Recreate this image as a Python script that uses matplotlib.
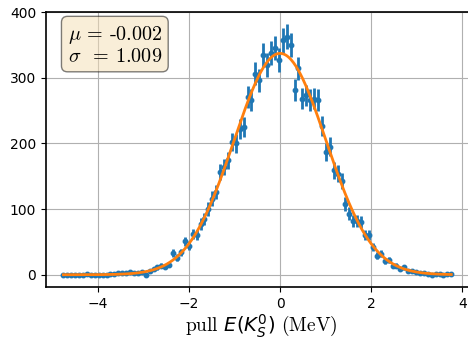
import numpy as np
import matplotlib
matplotlib.use("Agg")
import matplotlib.pyplot as plt
from matplotlib.ticker import MultipleLocator

# histogram of pulls (100 bins between -4.8 and 3.8)
lo, hi = -4.8, 3.8
counts = [0, 0, 0, 0, 0, 0, 1, 0, 0, 0, 0, 0, 1, 1,
          2, 2, 3, 4, 3, 3, 4, 0, 5, 9, 11, 14, 12, 15,
          33, 26, 34, 51, 44, 62, 60, 77, 85, 100, 116, 126,
          156, 164, 174, 202, 200, 222, 225, 271, 266, 306,
          296, 334, 319, 337, 345, 327, 357, 362, 350, 281,
          314, 268, 273, 266, 268, 266, 227, 187, 195, 159,
          154, 143, 108, 93, 82, 82, 80, 60, 60, 42,
          29, 32, 21, 22, 14, 14, 9, 11, 6, 5,
          4, 3, 2, 1, 0, 1, 1, 0, 1, 1]

# gaussian fit result
mu = -0.002
sigma = 1.009
amp = 337

counts = np.array(counts, dtype=float)
edges = np.linspace(lo, hi, len(counts) + 1)
centers = 0.5 * (edges[1:] + edges[:-1])

fig = plt.figure(figsize=(4.68, 3.45), dpi=100)
ax = fig.add_axes([46 / 468, 1 - 287 / 345, 430 / 468, 275 / 345])

ax.errorbar(centers, counts, yerr=np.sqrt(counts), fmt='o', ms=3.2,
            elinewidth=2, color='C0', zorder=3)
xx = np.linspace(centers[0], centers[-1], 500)
ax.plot(xx, amp * np.exp(-(xx - mu) ** 2 / (2 * sigma ** 2)), color='C1',
        lw=2, zorder=4)

ax.set_xlim(-5.14, 4.3)
ax.set_ylim(-18.7, 400)
ax.yaxis.set_major_locator(MultipleLocator(100))
ax.grid(True)
for s in ax.spines.values():
    s.set_linewidth(1.2)

ax.set_xlabel(r"pull $E(K_S^0)$ (MeV)", family='cmr10', fontsize=14,
              labelpad=1)
props = dict(boxstyle='round', facecolor='wheat', alpha=0.5)
ax.text(0.05, 0.955, "$\\mu$ = -0.002\n$\\sigma$  = 1.009",
        transform=ax.transAxes, fontsize=14.5, family='cmr10',
        math_fontfamily='cm', va='top', bbox=props, linespacing=1.1)

fig.savefig("out.png", dpi=100)
